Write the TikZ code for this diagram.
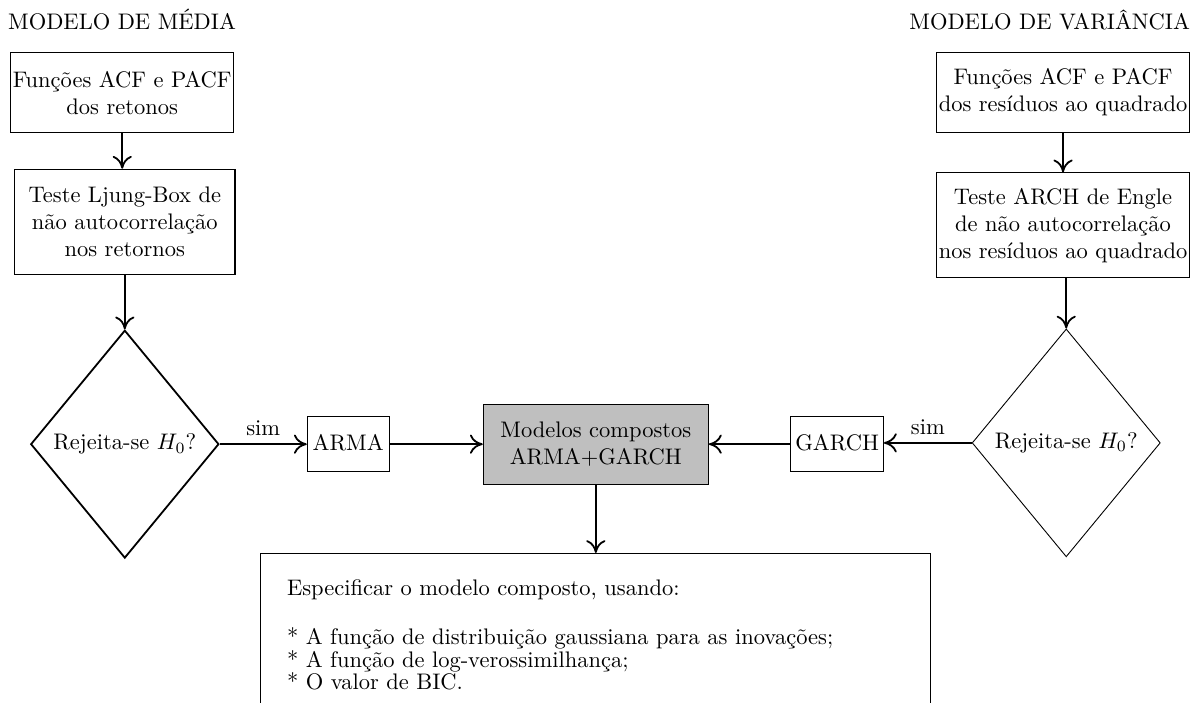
\documentclass[tikz,border=0pt]{standalone}
\usepackage{fontspec}
\usetikzlibrary{arrows.meta,shapes.geometric}

\begin{document}
\begin{tikzpicture}[
  box/.style={draw,rectangle,align=center,inner sep=1pt},
  decision/.style={draw,diamond,align=center,minimum width=2.94cm,minimum height=3.56cm,inner sep=0pt},
  flow/.style={-{To[length=2mm,width=3mm]},thick}
]
  \useasboundingbox (0,0) rectangle (18.75,-10.97);

  \node[anchor=west,inner xsep=0pt] (titleL) at (0.12,-0.31) {MODELO DE MÉDIA};
  \node[anchor=east,inner xsep=0pt] (titleR) at (18.6,-0.31) {MODELO DE VARIÂNCIA};

  % modelo de media
  \node[box,minimum height=1.25cm] (acfL) at (1.91,-1.45) {Funções ACF e PACF\\dos retonos};
  \node[box,thick,minimum width=3.45cm,minimum height=1.64cm] (ljung) at (1.95,-3.47)
    {Teste Ljung-Box de\\não autocorrelação\\nos retornos};
  \node[decision,thick] (decL) at (1.95,-6.94) {Rejeita-se $H_0$?};
  \node[box,minimum width=1.28cm,minimum height=0.86cm] (arma) at (5.44,-6.94) {\\[-6pt]ARMA};

  % modelo composto
  \node[box,fill=black!25,minimum width=3.52cm,minimum height=1.25cm] (comp) at (9.31,-6.94)
    {Modelos compostos\\ARMA+GARCH};

  % modelo de variancia
  \node[box,minimum width=3.92cm,minimum height=1.25cm] (acfR) at (16.61,-1.44)
    {Funções ACF e PACF\\dos resíduos ao quadrado};
  \node[box,minimum width=3.92cm,minimum height=1.64cm] (arch) at (16.61,-3.52)
    {Teste ARCH de Engle\\de não autocorrelação\\nos resíduos ao quadrado};
  \node[decision] (decR) at (16.66,-6.92) {Rejeita-se $H_0$?};
  \node[box,minimum width=1.45cm,minimum height=0.86cm] (garch) at (13.08,-6.94) {\\[-6pt]GARCH};

  % especificacao
  \node[draw,anchor=north,minimum width=10.47cm,text width=9.65cm,
        align=left,inner xsep=0pt,inner ysep=11.5pt] (spec) at (9.31,-8.64)
    {Especificar o modelo composto, usando:\\[10pt]
     * A função de distribuição gaussiana para as inovações;\\[-2pt]
     * A função de log-verossimilhança;\\[-2pt]
     * O valor de BIC.\\[30pt]};

  \draw[flow] (acfL) -- (acfL |- ljung.north);
  \draw[flow] (ljung) -- (decL);
  \draw[flow] (decL.east) -- node[above] {sim} (arma.west |- decL.east);
  \draw[flow] (arma) -- (comp);
  \draw[flow] (acfR) -- (arch);
  \draw[flow] (arch.south -| decR.north) -- (decR);
  \draw[flow] (decR.west) -- node[above] {sim} (garch.east |- decR.west);
  \draw[flow] (garch) -- (comp);
  \draw[flow] (comp) -- (spec);
\end{tikzpicture}
\end{document}
